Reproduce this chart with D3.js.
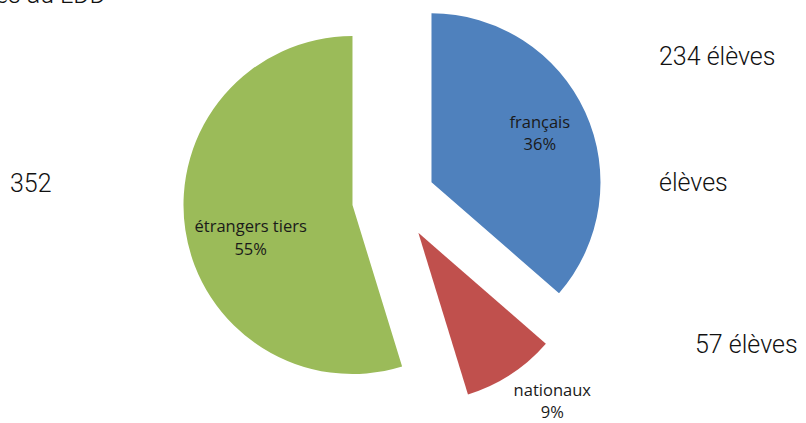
<!DOCTYPE html>
<html>
<head>
<meta charset="utf-8">
<script src="https://cdn.jsdelivr.net/npm/d3@7/dist/d3.min.js"></script>
<style>
  html, body { margin: 0; padding: 0; background: #fff; }
  svg { display: block; }
</style>
</head>
<body>
<svg id="chart" width="806" height="423"></svg>
<script>
// ---- data ----
const categories = ["français", "nationaux", "étrangers tiers"];
const values = [234, 57, 352];
const colors = ["#4F81BD", "#C0504D", "#9BBB59"];
const annotationTexts = ["234 élèves", "élèves", "57 élèves", "352"];
const titleText = "Répartition des élèves au LDD";

// ---- layout ----
const W = 806, H = 423;
const cx = 396, cy = 198.5, R = 169;
const explode = [39, 41, 44];
const labelRadius = [119, 215, 107];
const labelAngleShift = [0, -5.5, -9.3]; // degrees

const svg = d3.select("#chart");
svg.append("rect").attr("width", W).attr("height", H).attr("fill", "#fff");

const total = d3.sum(values);
const pie = d3.pie().sort(null).value(d => d);
const arcs = pie(values);
const arc = d3.arc().innerRadius(0).outerRadius(R);

const g = svg.append("g").attr("transform", `translate(${cx},${cy})`);

arcs.forEach((a, i) => {
  const mid = (a.startAngle + a.endAngle) / 2;
  const ox = Math.sin(mid) * explode[i];
  const oy = -Math.cos(mid) * explode[i];
  const sg = g.append("g").attr("transform", `translate(${ox},${oy})`);
  sg.append("path").attr("d", arc(a)).attr("fill", colors[i]);

  const la = mid + labelAngleShift[i] * Math.PI / 180;
  const lx = Math.sin(la) * labelRadius[i];
  const ly = -Math.cos(la) * labelRadius[i];
  const pct = Math.round(values[i] / total * 100) + "%";
  const t = sg.append("text")
    .attr("text-anchor", "middle")
    .attr("font-family", "'Open Sans', sans-serif")
    .attr("font-size", 16.5)
    .attr("fill", "#1a1a1a");
  t.append("tspan").attr("x", lx).attr("y", ly - 5.5).text(categories[i]);
  t.append("tspan").attr("x", lx).attr("y", ly + 17).text(pct);
});

// ---- annotations ----
const annFont = "Roboto, 'Liberation Sans', sans-serif";
const annPos = [[659, 65], [659, 191], [695, 353], [10, 192]];
annotationTexts.forEach((s, i) => {
  svg.append("text")
    .attr("x", annPos[i][0]).attr("y", annPos[i][1])
    .attr("font-family", annFont)
    .attr("font-weight", 300)
    .attr("font-size", 25)
    .attr("fill", "#111")
    .text(s);
});

// clipped title at the very top
svg.append("text")
  .attr("x", 106).attr("y", 2.5)
  .attr("text-anchor", "end")
  .attr("font-family", annFont)
  .attr("font-weight", 300)
  .attr("font-size", 25)
  .attr("fill", "#111")
  .text(titleText);
</script>
</body>
</html>
